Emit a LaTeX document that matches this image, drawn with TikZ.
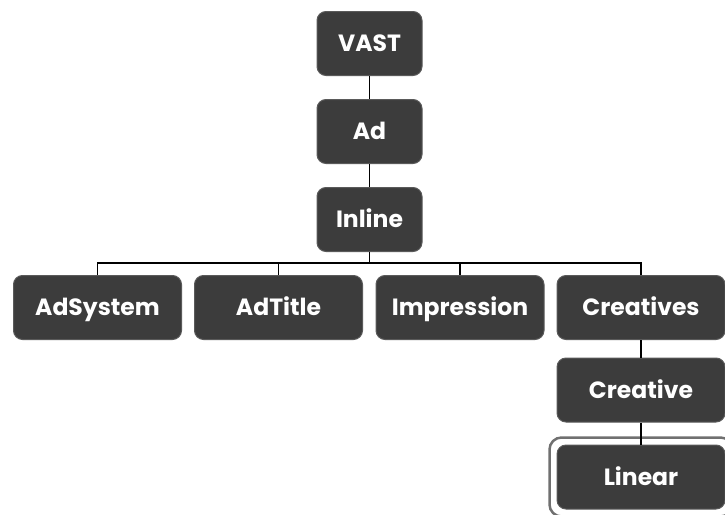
\documentclass[tikz,border=0pt]{standalone}
\usepackage{fontspec}
\setmainfont{Poppins}
\usetikzlibrary{fit}
\definecolor{boxGray}{HTML}{3C3C3C}
\definecolor{rimGray}{HTML}{5A5A5A}
\definecolor{frameGray}{HTML}{707070}
\begin{document}
\begin{tikzpicture}
[x=1pt,y=1pt,
  boxDecorate/.style={rectangle,rounded corners=9pt,fill=boxGray,draw=rimGray,line width=1pt,text=white,font=\fontsize{23.5}{23.5}\selectfont\bfseries,minimum height=64pt,inner sep=0pt,text height=16pt,text depth=0pt},%
  topBox/.style={boxDecorate,minimum width=105pt},%
  rowBox/.style={boxDecorate,minimum width=168pt},%
  treeLine/.style={line width=1.2pt,color=black}]
\useasboundingbox (0,0) rectangle (725,-514);
%% nodes or boxes
\foreach \nodename/\x/\y in {VAST/369.5/-43.5, Ad/369.5/-131.5, Inline/369.5/-219.5}
{
  \node (\nodename) at (\x,\y) [topBox] {\nodename};
}
\foreach \nodename/\x/\y in {AdSystem/97.5/-307.5, AdTitle/278.5/-307.5, Impression/460/-307.5,
  Creatives/641/-307.5, Creative/641/-390, Linear/641/-477}
{
  \node (\nodename) at (\x,\y) [rowBox] {\nodename};
}
%% frame round the chosen box
\node (LinearFrame) [fit=(Linear),inner sep=7pt,rounded corners=12pt,draw=frameGray,line width=2.5pt] {};
%% straight lines
\foreach \startnode/\endnode in {VAST/Ad, Ad/Inline, Creatives/Creative, Creative/Linear}
{
  \draw[treeLine] (\startnode) -- (\endnode);
}
%% lines of the bus
\foreach \endnode in {AdSystem, AdTitle, Impression, Creatives}
{
  \draw[treeLine] (Inline.south) |- ([yshift=12pt]\endnode.north) -- (\endnode.north);
}
\end{tikzpicture}
\end{document}
